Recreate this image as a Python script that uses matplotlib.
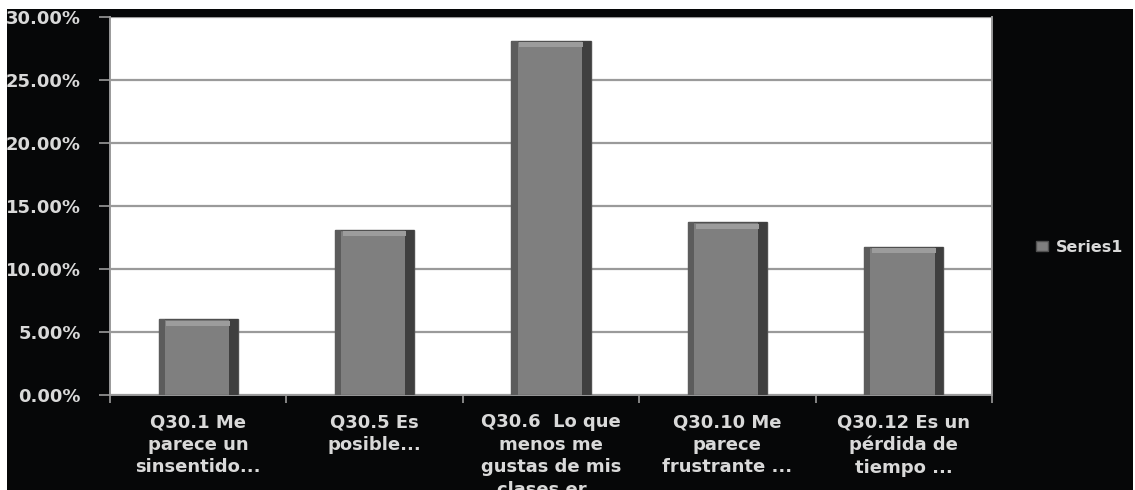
import numpy as np
import matplotlib.pyplot as plt
from matplotlib.patches import Rectangle

# Data
categories = ['Q30.1 Me\nparece un\nsinsentido...',
              'Q30.5 Es\nposible...',
              'Q30.6  Lo que\nmenos me\ngustas de mis\nclases er...',
              'Q30.10 Me\nparece\nfrustrante ...',
              'Q30.12 Es un\npérdida de\ntiempo ...']
series1 = [0.060, 0.131, 0.281, 0.137, 0.1175]
yticks = [0.0, 0.05, 0.10, 0.15, 0.20, 0.25, 0.30]

text_col = '#d9d9d9'
plt.rcParams['font.family'] = ['DejaVu Sans']
plt.rcParams['font.weight'] = 'bold'

fig = plt.figure(figsize=(11.35, 4.9), dpi=100)
fig.patch.set_facecolor('white')

# black chart area (image has a thin white border top/left/right)
fig.patches.append(Rectangle((7 / 1135, 0), 1126 / 1135, 481 / 490,
                             transform=fig.transFigure, facecolor='#060708',
                             edgecolor='none', zorder=-10))

ax = fig.add_axes([110 / 1135, 1 - 395 / 490, 882 / 1135, 378 / 490])
ax.set_facecolor('white')

x = np.arange(len(categories))
bw = 0.45
bars = ax.bar(x, series1, width=bw, color='#7f7f7f', edgecolor='#505050',
              linewidth=1.0, zorder=3, label='Series1')
# darker sides and light top bevel for the 3D look
for xi, v in zip(x, series1):
    ax.bar(xi + bw / 2 - 0.025, v, width=0.05, color='#3f3f3f', linewidth=0, zorder=4)
    ax.bar(xi - bw / 2 + 0.018, v, width=0.036, color='#5c5c5c', linewidth=0, zorder=4)
    ax.bar(xi, 0.004, bottom=v - 0.005, width=bw - 0.09, color='#9c9c9c',
           linewidth=0, zorder=4)

ax.set_xlim(-0.5, len(categories) - 0.5)
ax.set_ylim(0, 0.30)
ax.set_yticks(yticks)
ax.set_yticklabels([f'{t * 100:.2f}%' for t in yticks])
ax.yaxis.grid(True, color='#9a9a9a', linewidth=1.6, zorder=0)
ax.set_axisbelow(True)

ax.set_xticks(x)
ax.set_xticklabels(categories, linespacing=1.33)
ax.set_xticks(np.arange(len(categories) + 1) - 0.5, minor=True)
ax.tick_params(axis='x', which='major', length=0, pad=13,
               labelsize=13, labelcolor=text_col)
ax.tick_params(axis='x', which='minor', length=6, width=1.2, color='#9a9a9a')
ax.tick_params(axis='y', length=8, width=1.2, color='#9a9a9a', pad=13,
               labelsize=13, labelcolor=text_col)

for side in ['left', 'bottom', 'right']:
    ax.spines[side].set_color('#9a9a9a')
    ax.spines[side].set_linewidth(1.4)
ax.spines['top'].set_visible(False)

leg = fig.legend(handles=[bars], labels=['Series1'], loc='center left',
                 bbox_to_anchor=(1022 / 1135, 1 - 247 / 490), frameon=False,
                 handlelength=0.7, handleheight=0.6, handletextpad=0.5,
                 fontsize=11.5)
for t in leg.get_texts():
    t.set_color(text_col)

plt.savefig('out.png', dpi=100, facecolor=fig.get_facecolor())
